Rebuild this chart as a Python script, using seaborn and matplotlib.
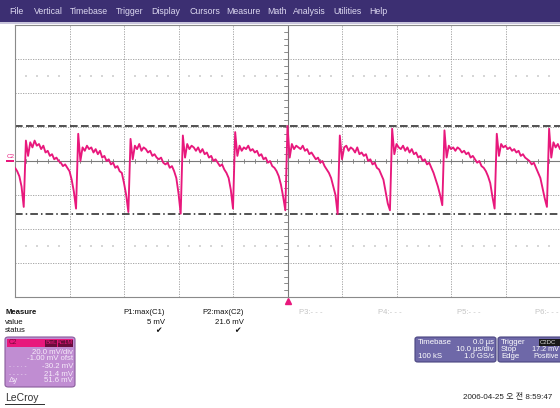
import numpy as np
import pandas as pd
import matplotlib
matplotlib.use("Agg")
import matplotlib.pyplot as plt
import seaborn as sns
from matplotlib.patches import Rectangle, FancyBboxPatch

# ---------------- data ----------------
sample_step_us = 0.4          # sampling step of the read-off trace
t_start_us = -50.0
# channel C2 trace in mV (10 cycles of ~9.6 us, read by eye)
trace_mv = [
    -3, -5, -8, -14, -26,
    13, 4, 12, 9, 13, 10, 11, 8, 10, 6, 7, 4, 5, 2, 3, 1, 0, -2, -1, -3, -5, -10, -17, -27,
    17, 1, 9, 7, 10, 8, 9, 6, 8, 5, 7, 3, 4, 1, 2, -1, 0, -3, -2, -5, -6, -12, -19, -29,
    14, 2, 10, 8, 11, 7, 9, 8, 6, 7, 4, 5, 3, 2, 3, 0, -1, 0, -3, -2, -5, -9, -18, -30,
    16, 3, 11, 8, 10, 9, 7, 9, 6, 8, 5, 6, 3, 4, 1, 2, 0, -2, -1, -4, -6, -9, -16, -27,
    18, 4, 10, 7, 9, 8, 10, 7, 8, 6, 7, 4, 5, 2, 3, 0, 1, -2, -3, -5, -8, -13, -20, -28,
    21.6, 3, 11, 8, 10, 9, 8, 10, 7, 8, 5, 6, 4, 2, 3, 0, 1, -2, -4, -6, -9, -14, -19, -30.2,
    16, 2, 9, 10, 7, 9, 8, 6, 9, 5, 6, 4, 5, 1, 2, -1, 0, -3, -4, -7, -10, -17, -24, -28,
    20, 5, 11, 9, 8, 10, 7, 9, 6, 8, 5, 6, 3, 4, 1, 2, -1, 0, -3, -6, -10, -14, -19, -25,
    19, 3, 10, 8, 9, 7, 9, 8, 6, 7, 5, 6, 3, 4, 2, 0, 1, -2, -3, -5, -8, -12, -20, -27,
    17, 4, 11, 9, 10, 8, 9, 7, 8, 6, 7, 4, 5, 3, 2, 1, -1, 0, -3, -6, -9, -15, -21, -26,
    20, 3, 12, 9, 11, 8,
]
time_us = t_start_us + sample_step_us * np.arange(len(trace_mv))

volts_per_div = 20.0
offset_mv = -1.00
time_per_div = 10.0
cursor_hi_mv = 21.4
cursor_lo_mv = -30.2

menu_items = ["File", "Vertical", "Timebase", "Trigger", "Display", "Cursors",
              "Measure", "Math", "Analysis", "Utilities", "Help"]
measure_labels = ["Measure", "value", "status"]
param_names = ["P1:max(C1)", "P2:max(C2)"]
param_values = ["5 mV", "21.6 mV"]
empty_params = ["P3:- - -", "P4:- - -", "P5:- - -", "P6:- - -"]
chan_lines = ["20.0 mV/div", "-1.00 mV ofst", "-30.2 mV", "21.4 mV", "51.6 mV"]
timestamp = "2006-04-25 오 전 8:59:47"

# ---------------- style ----------------
sns.set_style("white")
plt.rcParams['font.family'] = ['Liberation Sans', 'DejaVu Sans']

W, H = 560, 408
PINK = "#e8187c"

def fx(px):
    return px / W

def fy(py):
    return 1 - py / H

fig = plt.figure(figsize=(W / 100, H / 100), dpi=100)
fig.patch.set_facecolor("white")

# menu bar
fig.patches.append(Rectangle((0, fy(22)), 1, 22 / H, transform=fig.transFigure,
                             facecolor="#3c2f72", edgecolor="none", zorder=0))
fig.patches.append(Rectangle((0, fy(24)), 1, 2 / H, transform=fig.transFigure,
                             facecolor="#c9c5dc", edgecolor="none", zorder=0))
menu_x = [9, 34, 70, 116, 151, 190, 226, 267, 293, 333, 369]
for name, mx in zip(menu_items, menu_x):
    fig.text(fx(mx), fy(12), name, color="#dcd8f0", fontsize=6.3, va="center", ha="left")

# main scope grid axes
center_mv = -offset_mv
ymin = center_mv - 4 * volts_per_div
ymax = center_mv + 4 * volts_per_div
ax = fig.add_axes([fx(15), fy(297), (560 - 15) / W, (297 - 25) / H])
ax.set_xlim(-5 * time_per_div, 5 * time_per_div)
ax.set_ylim(ymin, ymax)

grid_col = "#9a9a9a"
for k in range(-4, 5):
    if k != 0:
        ax.axvline(k * time_per_div, color=grid_col, lw=0.6, ls=(0, (1.5, 1.5)), zorder=1)
for k in range(-3, 4):
    if k != 0:
        ax.axhline(center_mv + k * volts_per_div, color=grid_col, lw=0.6, ls=(0, (1.5, 1.5)), zorder=1)
ax.axvline(0, color="#7a7a7a", lw=0.8, zorder=1)
ax.axhline(center_mv, color="#7a7a7a", lw=0.8, zorder=1)
# minor ticks on center axes
for yy in np.arange(ymin, ymax + 0.1, volts_per_div / 5):
    ax.plot([-0.6, 0.0], [yy, yy], color="#7a7a7a", lw=0.6, zorder=1)
for xx in np.arange(-50, 50.1, time_per_div / 5):
    ax.plot([xx, xx], [center_mv - 1.2, center_mv + 1.2], color="#7a7a7a", lw=0.6, zorder=1)
# faint marks in the 2.5 div rows
faint_x = [x for x in np.arange(-50, 50, time_per_div / 5) if abs(x - round(x / 10) * 10) > 0.1]
for yy in (center_mv + 2.5 * volts_per_div, center_mv - 2.5 * volts_per_div):
    ax.scatter(faint_x, [yy] * len(faint_x), marker="s", s=2.5, color="#d6d6d6",
               linewidths=0, zorder=1)

# cursors
ax.axhline(cursor_hi_mv, color="#222222", lw=1.1, ls=(0, (5, 2.2)), zorder=2)
ax.axhline(cursor_lo_mv, color="#222222", lw=1.1, ls=(0, (5, 2, 1, 2)), zorder=2)

# trace
df = pd.DataFrame({"time_us": time_us, "C2_mV": trace_mv})
sns.lineplot(data=df, x="time_us", y="C2_mV", ax=ax, color=PINK, lw=1.35,
             estimator=None, sort=False, zorder=3)

ax.set_xticks([])
ax.set_yticks([])
ax.set_xlabel("")
ax.set_ylabel("")
for side in ("left", "top", "bottom"):
    ax.spines[side].set_color("#8a8a8a")
    ax.spines[side].set_linewidth(0.8)
ax.spines["right"].set_visible(False)

# trigger marker and channel marker
ax.plot([0], [ymin - 2.2], marker="^", ms=5, color=PINK, clip_on=False, zorder=5)
fig.text(fx(7), fy(156), "C2", color=PINK, fontsize=4.5, va="center", ha="left")
fig.patches.append(Rectangle((fx(6), fy(162)), 8 / W, 1.5 / H, transform=fig.transFigure,
                             facecolor=PINK, edgecolor="none"))

# measure table
fs = 5.6
fig.text(fx(5), fy(313), measure_labels[0], fontsize=fs, fontweight="bold", va="center", color="#111")
fig.text(fx(5), fy(322), measure_labels[1], fontsize=fs, va="center", color="#111")
fig.text(fx(5), fy(331), measure_labels[2], fontsize=fs, va="center", color="#111")
for name, val, xr in zip(param_names, param_values, [165, 244]):
    fig.text(fx(xr), fy(313), name, fontsize=fs, va="center", ha="right", color="#111")
    fig.text(fx(xr), fy(322), val, fontsize=fs, va="center", ha="right", color="#111")
    fig.text(fx(xr - 3), fy(331), "\u2714", fontsize=fs, va="center", ha="right",
             color="#111", family="DejaVu Sans")
for name, xl in zip(empty_params, [299, 378, 457, 535]):
    fig.text(fx(xl), fy(313), name, fontsize=fs, va="center", ha="left", color="#c4c4c4")

# channel descriptor box
fig.patches.append(FancyBboxPatch((fx(5), fy(387)), 70 / W, 50 / H,
                                  boxstyle="round,pad=0,rounding_size=0.006",
                                  transform=fig.transFigure, facecolor="#c08dd2",
                                  edgecolor="#8a5c9c", lw=0.8))
fig.patches.append(Rectangle((fx(7), fy(347)), 66 / W, 8 / H, transform=fig.transFigure,
                             facecolor=PINK, edgecolor="none"))
fig.patches.append(Rectangle((fx(45), fy(346.5)), 12 / W, 7 / H, transform=fig.transFigure,
                             facecolor="#6a0d3c", edgecolor="none"))
fig.patches.append(Rectangle((fx(58), fy(346.5)), 15 / W, 7 / H, transform=fig.transFigure,
                             facecolor="#6a0d3c", edgecolor="none"))
fig.text(fx(9), fy(343), "C2", fontsize=4.8, va="center", color="#7a0a3c")
fig.text(fx(51), fy(343), "BwL", fontsize=4.2, va="center", ha="center", color=PINK)
fig.text(fx(65.5), fy(343), "AC1M", fontsize=4.2, va="center", ha="center", color=PINK)
txt_col = "#f6ecfa"
for s, yy in zip(chan_lines, [352, 359, 366, 374, 381]):
    fig.text(fx(73), fy(yy), s, fontsize=fs, va="center", ha="right", color=txt_col)
fig.text(fx(9), fy(366), "- · - · -", fontsize=4.5, va="center", color=txt_col)
fig.text(fx(9), fy(374), "- - - - -", fontsize=4.5, va="center", color=txt_col)
fig.text(fx(9), fy(381), "\u0394y", fontsize=fs, va="center", color=txt_col)

# timebase box
fig.patches.append(FancyBboxPatch((fx(415), fy(362)), 81 / W, 25 / H,
                                  boxstyle="round,pad=0,rounding_size=0.005",
                                  transform=fig.transFigure, facecolor="#6e68a8",
                                  edgecolor="#4a4580", lw=0.8))
wc = "#ffffff"
fig.text(fx(418), fy(342), "Timebase", fontsize=fs, va="center", color=wc)
fig.text(fx(494), fy(342), "0.0 µs", fontsize=fs, va="center", ha="right", color=wc)
fig.text(fx(494), fy(349.5), "10.0 µs/div", fontsize=fs, va="center", ha="right", color=wc)
fig.text(fx(418), fy(357), "100 kS", fontsize=fs, va="center", color=wc)
fig.text(fx(494), fy(357), "1.0 GS/s", fontsize=fs, va="center", ha="right", color=wc)

# trigger box
fig.patches.append(FancyBboxPatch((fx(498), fy(362)), 70 / W, 25 / H,
                                  boxstyle="round,pad=0,rounding_size=0.005",
                                  transform=fig.transFigure, facecolor="#6e68a8",
                                  edgecolor="#4a4580", lw=0.8))
fig.patches.append(Rectangle((fx(539), fy(346)), 21 / W, 7 / H, transform=fig.transFigure,
                             facecolor="#1a1a1a", edgecolor="none"))
fig.text(fx(501), fy(342), "Trigger", fontsize=fs, va="center", color=wc)
fig.text(fx(540), fy(342.5), "C2DC", fontsize=4.3, va="center", color="#dddddd")
fig.text(fx(501), fy(349.5), "Stop", fontsize=fs, va="center", color=wc)
fig.text(fx(559), fy(349.5), "17.2 mV", fontsize=5.2, va="center", ha="right", color=wc)
fig.text(fx(501), fy(357), "Edge", fontsize=fs, va="center", color=wc)
fig.text(fx(559), fy(357), "Positive", fontsize=5.2, va="center", ha="right", color=wc)

# footer
fig.text(fx(5), fy(398), "LeCroy", fontsize=7.5, va="center", color="#333333")
fig.patches.append(Rectangle((fx(5), fy(405)), 40 / W, 1 / H, transform=fig.transFigure,
                             facecolor="#333333", edgecolor="none"))
fig.text(fx(463), fy(397), timestamp, fontsize=5.8, va="center", color="#222222",
         family=["Liberation Sans", "Noto Sans CJK KR"])

fig.savefig("out.png", dpi=100, facecolor="white")
